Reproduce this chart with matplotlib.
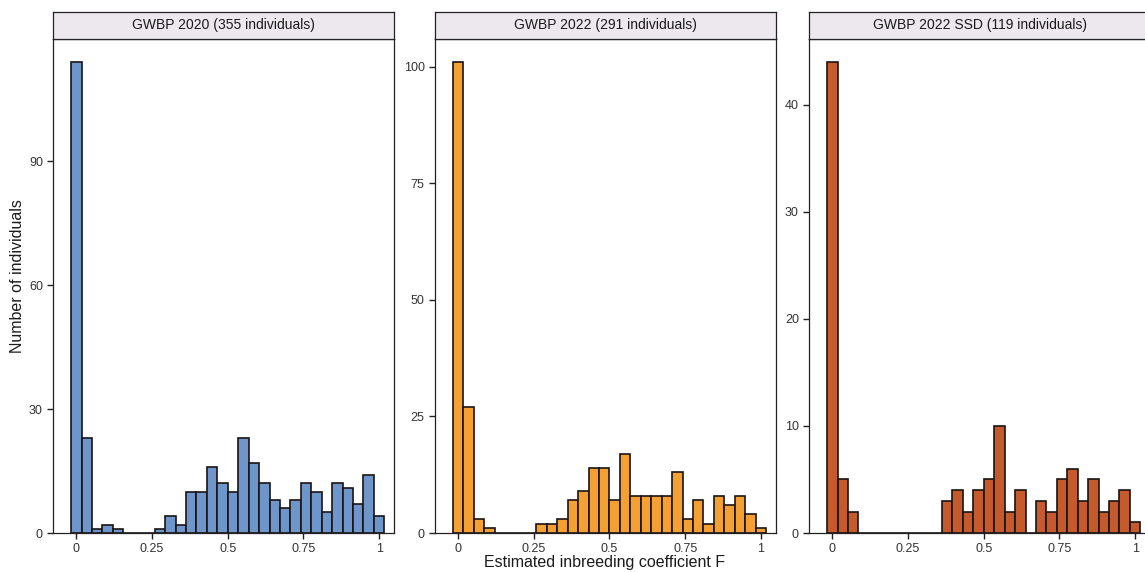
import numpy as np
import matplotlib
matplotlib.use("Agg")
import matplotlib.pyplot as plt

plt.rcParams['font.family'] = ['Liberation Sans', 'DejaVu Sans']

# histogram counts per bin (30 bins from 0 to 1)
counts_2020 = [114, 23, 1, 2, 1, 0, 0, 0, 1, 4, 2, 10, 10, 16, 12, 10, 23, 17,
               12, 8, 6, 8, 12, 10, 5, 12, 11, 7, 14, 4]
counts_2022 = [101, 27, 3, 1, 0, 0, 0, 0, 2, 2, 3, 7, 9, 14, 14, 7, 17, 8,
               8, 8, 8, 13, 3, 7, 2, 8, 6, 8, 4, 1]
counts_ssd = [44, 5, 2, 0, 0, 0, 0, 0, 0, 0, 0, 3, 4, 2, 4, 5, 10, 2,
              4, 0, 3, 2, 5, 6, 3, 5, 2, 3, 4, 1]

titles = ['GWBP 2020 (355 individuals)', 'GWBP 2022 (291 individuals)',
          'GWBP 2022 SSD (119 individuals)']
colors = ['#6F96CB', '#F5A033', '#C55A2D']
yticks = [[0, 30, 60, 90], [0, 25, 50, 75, 100], [0, 10, 20, 30, 40]]
xticks = [0, 0.25, 0.5, 0.75, 1]
xticklabels = ['0', '0.25', '0.5', '0.75', '1']

W, H = 1145, 572
fig = plt.figure(figsize=(W / 100, H / 100), dpi=100)

panel_left = [53.3, 435.0, 809.3]
panel_w = 341.0
panel_top = 38.5
panel_bottom = 533.0
strip_top = 12.0

nbins = 30
width = 1 / (nbins - 1)
centers = np.arange(nbins) * width

for i, counts in enumerate([counts_2020, counts_2022, counts_ssd]):
    ax = fig.add_axes([panel_left[i] / W, (H - panel_bottom) / H,
                       panel_w / W, (panel_bottom - panel_top) / H])
    ax.bar(centers, counts, width=width, color=colors[i], edgecolor='#1a1414',
           linewidth=1.2, align='center')
    ax.set_xlim(-0.076, 1.05)
    ax.set_ylim(0, max(counts) * 1.05)
    ax.set_xticks(xticks)
    ax.set_xticklabels(xticklabels)
    ax.set_yticks(yticks[i])
    ax.tick_params(axis='both', labelsize=9, colors='#222222', length=4,
                   width=1.0, labelcolor='#333333')
    for sp in ax.spines.values():
        sp.set_color('#222222')
        sp.set_linewidth(0.9)

    # facet strip
    sax = fig.add_axes([panel_left[i] / W, (H - panel_top) / H,
                        panel_w / W, (panel_top - strip_top) / H])
    sax.set_facecolor('#ECE8EE')
    sax.set_xticks([])
    sax.set_yticks([])
    for sp in sax.spines.values():
        sp.set_color('#222222')
        sp.set_linewidth(0.9)
    sax.text(0.5, 0.5, titles[i], ha='center', va='center', fontsize=10,
             color='#1a1a1a', transform=sax.transAxes)

fig.text(18 / W, 0.5 + 10 / H, 'Number of individuals', rotation=90,
         ha='center', va='center', fontsize=11.5, color='#1a1a1a')
fig.text(605 / W, (H - 563) / H, 'Estimated inbreeding coefficient F',
         ha='center', va='center', fontsize=11.5, color='#1a1a1a')

fig.savefig('out.png', dpi=100)
